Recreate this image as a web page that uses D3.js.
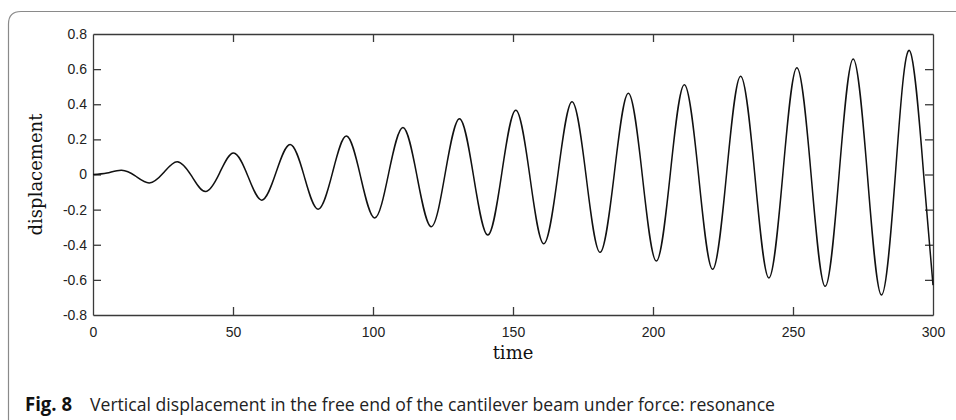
<!DOCTYPE html>
<html>
<head>
<meta charset="utf-8">
<script src="https://cdn.jsdelivr.net/npm/d3@7"></script>
<style>
  body { margin: 0; background: #fff; }
  svg { display: block; }
</style>
</head>
<body>
<div id="chart"></div>
<script>
// values: peaks, troughs and the points in between
const time = [0, 5, 10.2, 15.1, 20.1, 25.1, 30.1, 35.2, 40.2, 45.2, 50.2, 55.3, 60.3, 65.3, 70.4,
  75.4, 80.4, 85.5, 90.5, 95.5, 100.6, 105.6, 110.7, 115.7, 120.8, 125.8, 130.9, 135.9, 141.0,
  146.0, 151.0, 156.0, 161.0, 166.1, 171.1, 176.1, 181.1, 186.2, 191.2, 196.2, 201.2, 206.2,
  211.2, 216.3, 221.3, 226.3, 231.3, 236.4, 241.4, 246.4, 251.4, 256.5, 261.5, 266.5, 271.5,
  276.6, 281.6, 286.6, 291.6, 296.7, 300];
const displacement = [0, 0.008, 0.024, -0.008, -0.048, 0.008, 0.073, -0.008, -0.097, 0.008, 0.123,
  -0.008, -0.146, 0.008, 0.171, -0.008, -0.198, 0.008, 0.219, -0.008, -0.248, 0.008, 0.268,
  -0.008, -0.297, 0.008, 0.318, -0.008, -0.345, 0.008, 0.366, -0.008, -0.394, 0.008, 0.414,
  -0.008, -0.443, 0.008, 0.462, -0.008, -0.493, 0.008, 0.511, -0.008, -0.540, 0.008, 0.560,
  -0.008, -0.589, 0.008, 0.608, -0.008, -0.637, 0.008, 0.658, -0.008, -0.686, 0.008, 0.706,
  -0.008, -0.63];
const xTicks = [0, 50, 100, 150, 200, 250, 300];
const yTicks = [-0.8, -0.6, -0.4, -0.2, 0, 0.2, 0.4, 0.6, 0.8];

const width = 956, height = 420;
const margin = { top: 34, right: 23, bottom: 105, left: 93 };

const svg = d3.select("#chart").append("svg")
  .attr("width", width)
  .attr("height", height);

// figure frame with rounded corner
svg.append("path")
  .attr("d", "M8.5,440 L8.5,24 Q8.5,11.5 21,11.5 L970,11.5")
  .attr("fill", "none")
  .attr("stroke", "#8a8a8a")
  .attr("stroke-width", 1.2);

const x = d3.scaleLinear().domain([0, 300]).range([margin.left, width - margin.right]);
const y = d3.scaleLinear().domain([-0.8, 0.8]).range([height - margin.bottom, margin.top]);

// plain hyphen for negatives, like the original
const fmtY = d => d === 0 ? "0" : d3.format(".1f")(d).replace("\u2212", "-");
const fmtX = d3.format("d");
const tickLen = 8;

// axes, ticks inward on all four sides
const axisBottom = d3.axisBottom(x).tickValues(xTicks).tickSizeInner(-tickLen).tickSizeOuter(0).tickPadding(12).tickFormat(fmtX);
const axisTop = d3.axisTop(x).tickValues(xTicks).tickSizeInner(-tickLen).tickSizeOuter(0).tickFormat("");
const axisLeft = d3.axisLeft(y).tickValues(yTicks).tickSizeInner(-tickLen).tickSizeOuter(0).tickPadding(6).tickFormat(fmtY);
const axisRight = d3.axisRight(y).tickValues(yTicks).tickSizeInner(-tickLen).tickSizeOuter(0).tickFormat("");

const gB = svg.append("g").attr("transform", `translate(0,${y(-0.8)})`).call(axisBottom);
const gT = svg.append("g").attr("transform", `translate(0,${y(0.8)})`).call(axisTop);
const gL = svg.append("g").attr("transform", `translate(${x(0)},0)`).call(axisLeft);
const gR = svg.append("g").attr("transform", `translate(${x(300)},0)`).call(axisRight);

[gB, gT, gL, gR].forEach(g => {
  g.select(".domain").attr("stroke", "#3a3a3a").attr("stroke-width", 1.3);
  g.selectAll(".tick line").attr("stroke", "#3a3a3a").attr("stroke-width", 1.3);
  g.selectAll(".tick text")
    .attr("fill", "#222")
    .style("font-family", "'Liberation Sans', Arial, sans-serif")
    .style("font-size", "14px");
});
// the end ticks sit on the box corners
gT.selectAll(".tick").filter(d => d === 0 || d === 300).select("line").remove();
gB.selectAll(".tick").filter(d => d === 0 || d === 300).select("line").remove();
gL.selectAll(".tick").filter(d => d === -0.8 || d === 0.8).select("line").remove();
gR.selectAll(".tick").filter(d => d === -0.8 || d === 0.8).select("line").remove();

// curve
const points = time.map((t, i) => ({ t: t, v: displacement[i] }));
const line = d3.line()
  .x(d => x(d.t))
  .y(d => y(d.v))
  .curve(d3.curveNatural);

svg.append("path")
  .datum(points)
  .attr("d", line)
  .attr("fill", "none")
  .attr("stroke", "#111")
  .attr("stroke-width", 1.5);

// axis titles
svg.append("text")
  .attr("x", x(150))
  .attr("y", 359)
  .attr("text-anchor", "middle")
  .style("font-family", "'DejaVu Serif', serif")
  .style("font-size", "18px")
  .attr("fill", "#111")
  .text("time");

svg.append("text")
  .attr("transform", `translate(42,${y(0)}) rotate(-90)`)
  .attr("text-anchor", "middle")
  .style("font-family", "'DejaVu Serif', serif")
  .style("font-size", "18px")
  .attr("fill", "#111")
  .text("displacement");

// caption
svg.append("text")
  .attr("x", 25)
  .attr("y", 411)
  .style("font-family", "'Open Sans', sans-serif")
  .style("font-size", "19px")
  .style("font-weight", "bold")
  .attr("fill", "#111")
  .attr("textLength", 47)
  .attr("lengthAdjust", "spacingAndGlyphs")
  .text("Fig. 8");

svg.append("text")
  .attr("x", 90)
  .attr("y", 411)
  .style("font-family", "'Open Sans', sans-serif")
  .style("font-size", "19px")
  .attr("fill", "#222")
  .attr("textLength", 685)
  .attr("lengthAdjust", "spacingAndGlyphs")
  .text("Vertical displacement in the free end of the cantilever beam under force: resonance");
</script>
</body>
</html>
